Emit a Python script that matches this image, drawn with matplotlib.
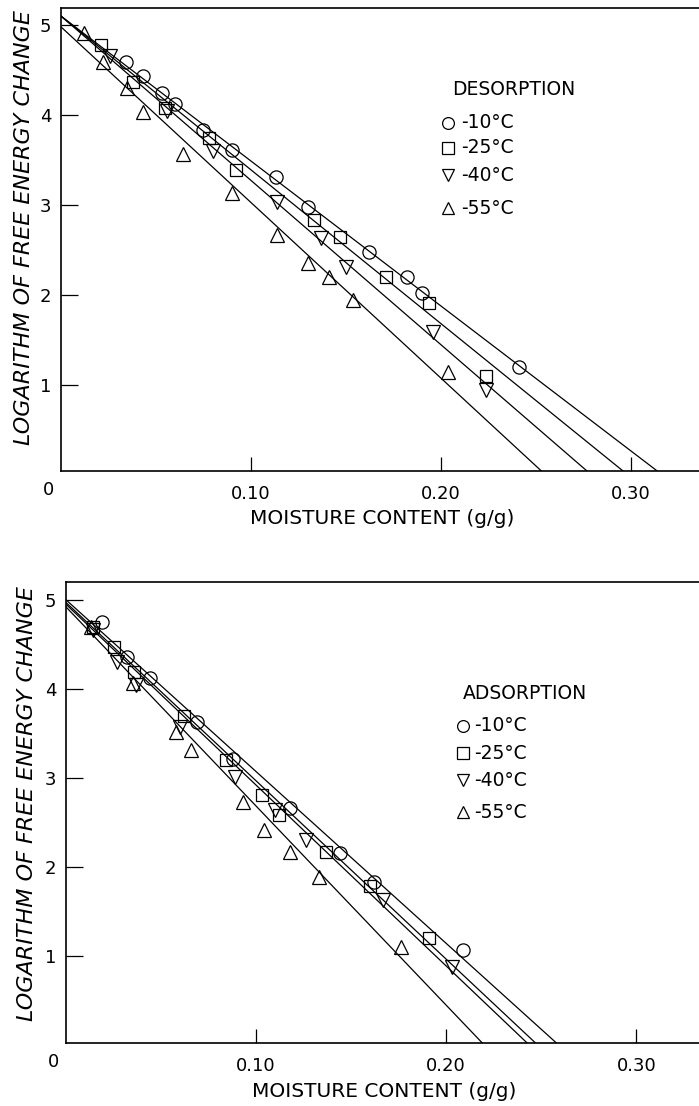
import matplotlib
matplotlib.use('Agg')
import matplotlib.pyplot as plt
import numpy as np

plt.rcParams['font.family'] = 'DejaVu Sans'

temps = ['-10°C', '-25°C', '-40°C', '-55°C']
markers = ['o', 's', 'v', '^']
msizes = [9.5, 9.0, 10, 10]

# desorption data (moisture content g/g, log free energy change)
d10_x = [0.034, 0.043, 0.053, 0.060, 0.075, 0.090, 0.113, 0.130, 0.162, 0.182, 0.190, 0.241]
d10_y = [4.59, 4.43, 4.24, 4.12, 3.83, 3.61, 3.31, 2.98, 2.48, 2.20, 2.02, 1.20]
d25_x = [0.021, 0.038, 0.055, 0.078, 0.092, 0.133, 0.147, 0.171, 0.194, 0.224]
d25_y = [4.78, 4.37, 4.08, 3.74, 3.39, 2.83, 2.64, 2.20, 1.91, 1.10]
d40_x = [0.026, 0.056, 0.080, 0.114, 0.137, 0.150, 0.196, 0.224]
d40_y = [4.66, 4.05, 3.60, 3.03, 2.63, 2.31, 1.59, 0.94]
d55_x = [0.012, 0.022, 0.035, 0.043, 0.064, 0.090, 0.114, 0.130, 0.141, 0.154, 0.204]
d55_y = [4.91, 4.59, 4.30, 4.03, 3.57, 3.13, 2.67, 2.36, 2.20, 1.94, 1.14]
# fitted lines: value at x=0 and x where line meets the axis
d_y0 = [5.10, 5.10, 5.10, 4.98]
d_xend = [0.314, 0.296, 0.277, 0.253]

# adsorption data
a10_x = [0.019, 0.032, 0.044, 0.069, 0.088, 0.118, 0.144, 0.162, 0.209]
a10_y = [4.75, 4.36, 4.12, 3.63, 3.21, 2.66, 2.16, 1.83, 1.07]
a25_x = [0.014, 0.025, 0.036, 0.062, 0.084, 0.103, 0.112, 0.137, 0.160, 0.191]
a25_y = [4.69, 4.47, 4.19, 3.69, 3.20, 2.81, 2.58, 2.17, 1.78, 1.20]
a40_x = [0.014, 0.027, 0.037, 0.060, 0.089, 0.110, 0.126, 0.167, 0.203]
a40_y = [4.66, 4.30, 4.04, 3.57, 3.01, 2.64, 2.30, 1.63, 0.88]
a55_x = [0.013, 0.035, 0.058, 0.066, 0.093, 0.104, 0.118, 0.133, 0.176]
a55_y = [4.70, 4.07, 3.52, 3.31, 2.73, 2.41, 2.17, 1.89, 1.10]
a_y0 = [5.00, 4.97, 4.95, 4.92]
a_xend = [0.258, 0.247, 0.2426, 0.219]

xticks = [0.10, 0.20, 0.30]
xticklabels = ['0.10', '0.20', '0.30']
yticks = [1, 2, 3, 4, 5]

fig = plt.figure(figsize=(6.99, 11.06), dpi=100)
ax1 = fig.add_axes([61/699, 1-471/1106, 1-61/699, 463/1106])
ax2 = fig.add_axes([66/699, 1-1043/1106, 1-66/699, 461/1106])

panels = [
    (ax1, [(d10_x, d10_y), (d25_x, d25_y), (d40_x, d40_y), (d55_x, d55_y)], d_y0, d_xend,
     (0.044, 5.19), 0.336, 'DESORPTION',
     dict(tx=0.613, ty=0.823, mx=0.607, my=[0.752, 0.698, 0.639, 0.568], lx=0.627),
     dict(ylx=-0.058, yly=0.525, xlx=0.503, xly=-0.102)),
    (ax2, [(a10_x, a10_y), (a25_x, a25_y), (a40_x, a40_y), (a55_x, a55_y)], a_y0, a_xend,
     (0.022, 5.20), 0.333, 'ADSORPTION',
     dict(tx=0.627, ty=0.759, mx=0.627, my=[0.688, 0.629, 0.570, 0.501], lx=0.645),
     dict(ylx=-0.061, yly=0.52, xlx=0.502, xly=-0.106)),
]

for ax, series, y0s, xends, ylim, xmax, title, leg, lab in panels:
    for (xs, ys), m, ms, y0, xe in zip(series, markers, msizes, y0s, xends):
        ax.plot(xs, ys, linestyle='none', marker=m, ms=ms, mfc='none', mec='k', mew=0.9)
        ax.plot([0, xe], [y0, ylim[0]], color='k', lw=0.9)
    ax.set_xlim(0, xmax)
    ax.set_ylim(*ylim)
    ax.spines['right'].set_visible(False)
    for s in ['top', 'left', 'bottom']:
        ax.spines[s].set_linewidth(1.2)
    ax.set_xticks(xticks)
    ax.set_xticklabels(xticklabels)
    ax.set_yticks(yticks)
    ax.tick_params(axis='x', direction='in', length=10, width=0.9, pad=10, labelsize=13)
    ax.tick_params(axis='y', direction='in', length=12, width=0.9, pad=7, labelsize=13)
    ax.text(-0.0068, -0.021, '0', transform=ax.get_xaxis_transform(), ha='center', va='top', fontsize=13)
    ax.text(lab['ylx'], lab['yly'], 'LOGARITHM OF FREE ENERGY CHANGE', transform=ax.transAxes,
            rotation=90, ha='center', va='center', fontsize=16, style='italic')
    ax.text(lab['xlx'], lab['xly'], 'MOISTURE CONTENT (g/g)', transform=ax.transAxes,
            ha='center', va='center', fontsize=14.5)
    # legend drawn by hand
    ax.text(leg['tx'], leg['ty'], title, transform=ax.transAxes, ha='left', va='center', fontsize=13.5)
    for m, ms, yy, t in zip(markers, msizes, leg['my'], temps):
        ax.plot([leg['mx']], [yy], transform=ax.transAxes, linestyle='none', marker=m, ms=ms-1,
                mfc='none', mec='k', mew=0.9, clip_on=False)
        ax.text(leg['lx'], yy, t, transform=ax.transAxes, ha='left', va='center', fontsize=13.5)

fig.savefig('out.png', dpi=100)
